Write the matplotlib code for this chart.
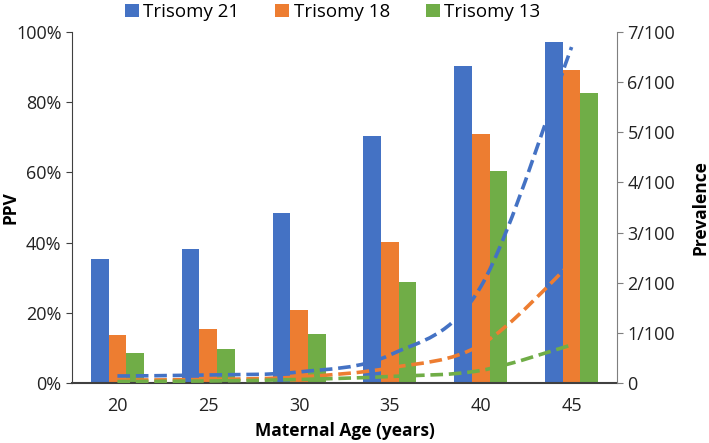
import matplotlib
matplotlib.use('Agg')
import matplotlib.pyplot as plt
import matplotlib.ticker as ticker
from matplotlib.path import Path
from matplotlib.patches import PathPatch
import numpy as np

# data
ages = ['20', '25', '30', '35', '40', '45']
series = ['Trisomy 21', 'Trisomy 18', 'Trisomy 13']
ppv_t21 = [35.4, 38.1, 48.3, 70.5, 90.2, 97.2]
ppv_t18 = [13.6, 15.3, 20.8, 40.1, 70.9, 89.2]
ppv_t13 = [8.5, 9.8, 14.0, 28.8, 60.3, 82.6]
prev_t21 = [0.14, 0.16, 0.22, 0.56, 1.92, 6.70]   # per 100
prev_t18 = [0.06, 0.07, 0.12, 0.30, 0.76, 2.40]
prev_t13 = [0.03, 0.04, 0.07, 0.13, 0.25, 0.76]

colors = ['#4472C4', '#ED7D31', '#70AD47']
plt.rcParams['font.family'] = ['Open Sans', 'DejaVu Sans']

fig = plt.figure(figsize=(7.09, 4.43), dpi=100)
ax1 = fig.add_axes([72 / 709, 60 / 443, 545 / 709, 351 / 443])
ax2 = ax1.twinx()

x = np.arange(len(ages))
w = 0.195
for i, (vals, name) in enumerate(zip([ppv_t21, ppv_t18, ppv_t13], series)):
    ax1.bar(x + (i - 1) * w, vals, width=w, color=colors[i], label=name, zorder=2)


def smooth_path(xs, ys):
    # Catmull-Rom style smoothing, like Excel's smoothed lines
    pts = np.column_stack([xs, ys]).astype(float)
    verts = [pts[0]]
    codes = [Path.MOVETO]
    n = len(pts)
    for i in range(n - 1):
        p0 = pts[max(i - 1, 0)]
        p1 = pts[i]
        p2 = pts[i + 1]
        p3 = pts[min(i + 2, n - 1)]
        c1 = p1 + (p2 - p0) / 6.0
        c2 = p2 - (p3 - p1) / 6.0
        verts += [c1, c2, p2]
        codes += [Path.CURVE4] * 3
    return Path(verts, codes)


for i, prev in enumerate([prev_t21, prev_t18, prev_t13]):
    yv = np.array(prev) / 100.0
    patch = PathPatch(smooth_path(x, yv), fill=False, edgecolor=colors[i],
                      linewidth=2.6, linestyle=(0, (3.5, 1.6)), zorder=3)
    ax2.add_patch(patch)

ax1.set_xlim(-0.5, 5.5)
ax1.set_ylim(0, 100)
ax2.set_ylim(0, 0.07)
ax1.set_xticks(x)
ax1.set_xticklabels(ages)
ax1.yaxis.set_major_locator(ticker.MultipleLocator(20))
ax1.yaxis.set_major_formatter(ticker.FuncFormatter(lambda v, p: f'{v:.0f}%'))
ax2.yaxis.set_major_locator(ticker.MultipleLocator(0.01))
ax2.yaxis.set_major_formatter(ticker.FuncFormatter(
    lambda v, p: '0' if round(v * 100) == 0 else f'{round(v * 100)}/100'))

for ax in (ax1, ax2):
    ax.spines['top'].set_visible(False)
ax1.spines['right'].set_visible(False)
ax2.spines['left'].set_visible(False)
ax2.spines['bottom'].set_visible(False)
ax1.spines['left'].set_color('#404040')
ax1.spines['bottom'].set_color('#404040')
ax1.spines['bottom'].set_linewidth(1.5)
ax2.spines['right'].set_color('#7f7f7f')

ax1.tick_params(axis='x', length=0, labelsize=13, pad=10, labelcolor='#222222')
ax1.tick_params(axis='y', length=4, color='#404040', labelsize=13, labelcolor='#222222')
ax2.tick_params(axis='y', length=4, color='#7f7f7f', labelsize=13, labelcolor='#222222')

ax1.set_xlabel('Maternal Age (years)', fontsize=12.5, fontweight='bold', labelpad=5)
ax1.set_ylabel('PPV', fontsize=12.5, fontweight='bold')
ax2.set_ylabel('Prevalence', fontsize=12.5, fontweight='bold')
ax1.yaxis.set_label_coords(-0.097, 0.5)
ax2.yaxis.set_label_coords(1.137, 0.5)

ax1.legend(loc='center', bbox_to_anchor=(0.478, 1.057), ncol=3, frameon=False,
           fontsize=13.5, handlelength=0.75, handleheight=0.75, handletextpad=0.25,
           columnspacing=1.9, borderaxespad=0)

fig.savefig('out.png', dpi=100, facecolor='white')
